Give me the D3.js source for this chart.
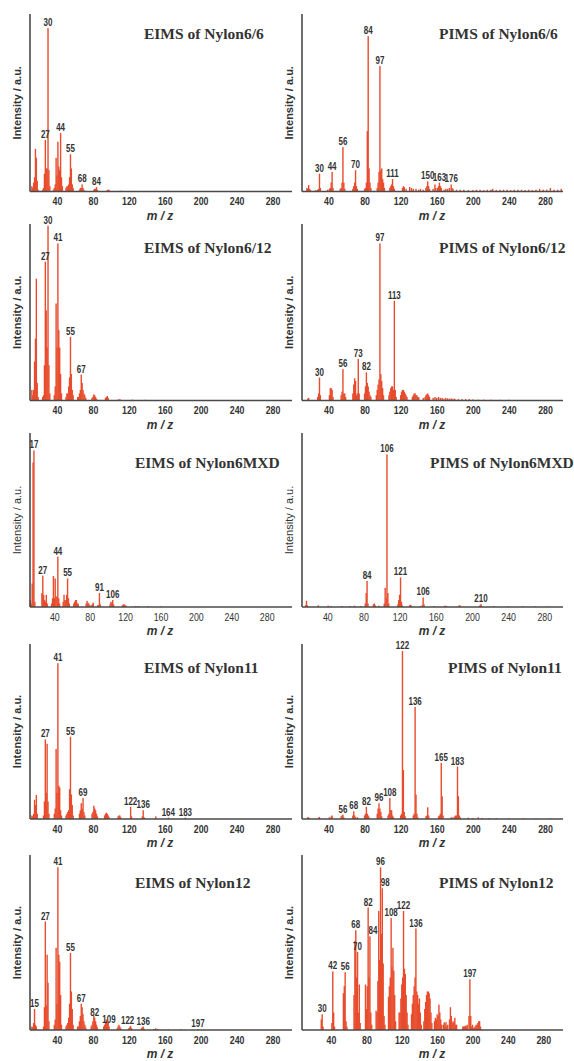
<!DOCTYPE html>
<html>
<head>
<meta charset="utf-8">
<script src="https://cdn.jsdelivr.net/npm/d3@7"></script>
<style>
  html, body { margin: 0; padding: 0; background: #fff; }
  svg { display: block; }
  .tick text, .pk { font-family: "Liberation Sans", Arial, sans-serif; }
</style>
</head>
<body>
<svg id="chart" width="574" height="1061"></svg>
<script>
// ---- data: [m/z, relative intensity %] ----
const xTicks = [40, 80, 120, 160, 200, 240, 280];

const ei66 = [[12,3],[13,2],[14,5],[15,8],[16,24],[17,19],[18,6],[19,1],
  [24,1],[25,2],[26,10],[27,29],[28,13],[29,13],[30,92],[31,12],[32,3],
  [36,1],[37,2],[38,4],[39,19],[40,9],[41,28],[42,14],[43,12],[44,33],[45,8],[46,3],
  [50,2],[51,3],[52,3],[53,4],[54,8],[55,21],[56,13],[57,4],[58,2],
  [65,1],[66,2],[67,2],[68,4],[69,2],[70,1],
  [81,1],[82,1.5],[83,1.5],[84,2.5],[85,1],
  [96,0.8],[97,1],[98,1],[110,0.4],[112,0.4],[126,0.3]];
const ei66Labels = [30, 27, 44, 55, 68, 84];

const pi66 = [[16,2],[17,1.5],[18,3.6],[19,1.5],[20,0.8],[26,0.8],[28,1],[29,1.5],[30,10],[31,2],
  [39,1],[41,1.5],[42,2],[43,5],[44,11],[45,2],
  [53,1.5],[54,2],[55,5],[56,25],[57,5],[58,1.5],
  [67,1.5],[68,3],[69,5],[70,12],[71,3],[72,1.5],
  [80,1.5],[81,2],[82,5],[83,34],[84,87.5],[85,13],[86,5],[87,2],
  [94,2],[95,5],[96,11],[97,70.7],[98,12],[99,13],[100,7],[101,5],[102,2],
  [108,2],[109,3],[110,4],[111,7],[112,3],[113,1.5],
  [122,2],[123,3],[124,2.5],[126,1.5],[130,2.5],[132,2],[134,1.5],[137,1.5],[140,1],[142,1.5],[145,1],
  [148,2],[149,3],[150,5.7],[151,3],[152,1.5],
  [156,1.5],[158,4],[159,2],[161,2],[162,3],[163,5],[164,3],[165,2],
  [168,1],[170,1.5],[172,1.5],[174,2],[176,4],[177,2],[178,1.5],
  [182,1],[186,1],[190,1],[195,0.8],[200,0.8],[204,1],[208,1],[212,0.8],[216,1],[220,1],[222,1.5],
  [226,0.8],[230,1],[234,1],[238,1],[242,0.8],[246,1],[250,1],[254,1],[258,0.8],[262,1],[266,0.8],
  [270,1],[274,1.5],[278,1],[282,1],[286,2],[290,1],[294,1],[298,1.5]];
const pi66Labels = [84, 97, 56, 30, 44, 70, 111, 150, 163, 176];

const ei612 = [[12,6],[13,3],[14,6],[15,22],[16,35],[17,69],[18,10],[19,2],
  [24,2],[25,3],[26,20],[27,78.6],[28,51],[29,30],[30,99],[31,20],[32,4],
  [37,3],[38,8],[39,55],[40,30],[41,89],[42,40],[43,30],[44,15],[45,4],
  [50,2],[51,4],[52,4],[53,8],[54,13],[55,36],[56,15],[57,6],[58,3],
  [63,2],[64,2],[65,4],[66,6],[67,14.7],[68,10],[69,6],[70,4],[71,3],[72,1.5],
  [79,1.5],[80,2],[81,3.4],[82,3],[83,2],[84,1],
  [94,1.5],[95,2],[96,2.6],[97,1.5],[108,0.6],[110,0.8],[124,0.5],[138,0.4]];
const ei612Labels = [30, 41, 27, 55, 67];

const pi612 = [[17,1],[18,1.5],[28,2],[29,4],[30,13],[31,3],
  [41,3],[42,7],[43,7],[44,6],[45,2],
  [54,3],[55,5],[56,17.8],[57,4],[58,4],[59,2],
  [67,4],[68,9],[69,12.6],[70,11],[71,3],[72,4],[73,23.6],[74,4],
  [80,4],[81,8],[82,16],[83,10],[84,8],[85,5],[86,3],[87,2],
  [93,3],[94,6],[95,9],[96,12],[97,89],[98,15],[99,11],[100,7],[101,3],
  [107,3],[108,5],[109,7],[110,8],[111,8],[112,6],[113,56.5],[114,6],[115,2],
  [120,3],[121,5],[122,6],[123,6],[124,5],[125,4],[126,3],[127,2],
  [133,2],[134,3],[135,4],[136,4],[137,3],[138,3],[139,2],[140,2],
  [145,1.5],[147,2],[148,3],[149,3.5],[150,4],[151,3],[152,2],
  [156,1.5],[158,2],[160,1.5],[162,2],[164,1.5],[166,1.5],[168,1],[170,1.5],[172,1.2],[174,1],
  [176,1.2],[178,1],[180,1],[184,0.8],[188,0.8],[192,0.8],[196,0.8],[200,0.6],[206,0.5],
  [212,0.5],[220,0.5],[230,0.4],[240,0.4]];
const pi612Labels = [97, 113, 30, 56, 73, 82];

const eiMXD = [[13,4],[14,2],[15,13.5],[16,83],[17,90],[18,3],
  [26,8],[27,18],[28,7],[29,4],[30,3],[31,7],[32,2],
  [37,2],[38,5],[39,17.8],[40,5],[41,16.4],[42,6],[43,6],[44,29],[45,5],[46,2],
  [50,3],[51,7],[52,4],[53,4],[54,7],[55,16.4],[56,5],[57,2],
  [62,2],[63,3],[64,4],[65,4],[66,2],[67,2],
  [76,2],[77,3.5],[78,2.5],[79,2],[80,1],[82,1],[83,1.5],[84,2.5],
  [89,1],[90,1],[91,8],[92,1.5],
  [103,1.5],[104,3],[105,2.5],[106,4],[107,1.5],
  [117,1],[118,1.5],[119,1.5],[120,1],[121,0.8],
  [132,0.6],[135,0.5],[146,0.5],[160,0.4]];
const eiMXDLabels = [17, 27, 44, 55, 91, 106];

const piMXD = [[16,1],[17,3.6],[18,1],[30,1],[41,0.8],[44,0.6],[56,0.6],[65,0.6],[70,0.8],[77,0.6],
  [82,2],[83,8],[84,15],[85,2],
  [91,1.5],[92,2],[93,1],[97,0.8],
  [103,2],[104,11],[105,5],[106,87.7],[107,8],[108,2],
  [118,1.5],[119,4],[120,7],[121,17],[122,3],[123,1],
  [131,1],[132,1.3],[133,0.8],
  [143,0.6],[145,1],[146,5.5],[147,1.5],
  [158,0.5],[170,0.8],[172,0.6],[186,1],[187,0.8],
  [208,0.6],[209,1],[210,1.7],[211,0.6],
  [224,0.6],[240,0.4],[256,0.4],[270,0.4],[284,0.4]];
// the label over m/z 146 reads "106" in the published figure
const piMXDLabels = [106, 84, 121, [146, "106"], 210];

const ei11 = [[12,2],[13,1.5],[14,3],[15,11],[16,8],[17,13.7],[18,3],
  [25,2],[26,10],[27,45.5],[28,15],[29,43],[30,10],[31,3],
  [37,3],[38,6],[39,40],[40,15],[41,89],[42,19],[43,18],[44,5],[45,2],
  [50,2],[51,3],[52,4],[53,5],[54,17],[55,47],[56,14],[57,8],[58,2],
  [65,3],[66,5],[67,9],[68,6],[69,12],[70,4],[71,2],
  [79,3],[80,4],[81,7.6],[82,6],[83,5],[84,3],[85,1.5],
  [93,2],[94,3],[95,3.6],[96,3],[97,2],[98,1],
  [108,1.5],[109,2],[110,2],[111,1],
  [122,7],[123,1.5],[135,1.5],[136,5],[137,1],
  [150,1.5],[164,0.8],[183,0.8]];
const ei11Labels = [41, 27, 55, 69, 122, 136, 164, 183];

const pi11 = [[17,1],[18,1],[29,0.8],[30,1.2],[41,1],[43,1.5],[44,2],
  [54,1.5],[55,2],[56,2.5],[57,1],
  [67,2],[68,4.4],[69,2],[70,1],[72,1],
  [80,2],[81,3],[82,7],[83,3],[84,2],[85,1],
  [94,3],[95,6],[96,9],[97,6],[98,4],[99,1.5],
  [106,2],[107,3],[108,12],[109,5],[110,5],[111,2],[112,1],
  [120,2],[121,3],[122,96],[123,28],[124,4],[125,1.5],
  [134,2],[135,3],[136,64],[137,14],[138,3],[139,1],
  [148,1.5],[149,2],[150,6.7],[151,2],
  [162,1.5],[163,2],[164,3],[165,32],[166,13],[167,2],
  [176,1],[178,1],[180,1.5],[181,2],[182,2],[183,30],[184,13],[185,2],[186,1],
  [195,0.8],[200,0.6],[206,1],[210,0.6],[218,0.5],[226,0.5],[240,0.4],[256,0.4],[270,0.4],[286,0.4]];
const pi11Labels = [122, 136, 165, 183, 108, 96, 82, 68, 56];

const ei12 = [[12,2],[13,1.5],[14,4],[15,12],[16,3],[17,2],
  [25,2],[26,13],[27,62],[28,14],[29,43],[30,27],[31,5],
  [37,3],[38,6],[39,47],[40,15],[41,93],[42,43],[43,39],[44,20],[45,3],
  [50,2],[51,3],[52,4],[53,7],[54,15],[55,44],[56,22],[57,12],[58,3],
  [63,2],[64,2],[65,5],[66,8],[67,15],[68,13],[69,9],[70,5],[71,3],[72,1.5],
  [78,2],[79,3],[80,5],[81,8],[82,7],[83,5],[84,3],[85,1.5],
  [92,2],[93,3],[94,4],[95,6],[96,5],[97,4],[98,2],
  [107,1],[108,2],[109,3],[110,2],[111,1],
  [120,1],[121,1.5],[122,2.3],[123,1],
  [134,1],[135,1.5],[136,2],[137,0.8],
  [148,0.6],[150,1],[152,0.5],[164,0.4],[178,0.4],[197,0.6]];
const ei12Labels = [41, 27, 55, 15, 67, 82, 109, 122, 136, 197];

const pi12 = [[29,6],[30,9],[31,2],
  [41,4],[42,33.5],[43,10],[44,2],
  [54,21],[55,25],[56,33],[57,5],[58,2],
  [66,20],[67,51],[68,57],[69,30],[70,44.6],[71,10],[72,26],[73,4],
  [79,26],[80,12],[81,25],[82,70],[83,30],[84,53.5],[85,10],[86,3],
  [91,11],[92,10],[93,28],[94,68],[95,40],[96,93],[97,55],[98,81],[99,38],[100,8],[101,3],
  [105,19],[106,25],[107,30],[108,64],[109,36],[110,47],[111,34],[112,20],[113,5],
  [117,10],[118,10],[119,18],[120,26],[121,30],[122,68],[123,35],[124,32],[125,20],[126,10],[127,3],
  [131,9],[132,15],[133,20],[134,25],[135,30],[136,58],[137,22],[138,20],[139,15],[140,18],[141,10],[142,3],
  [145,5],[146,12],[147,16],[148,20],[149,22],[150,22],[151,21],[152,18],[153,10],[154,4],
  [157,5],[158,7],[159,6],[160,9],[161,8],[162,14.5],[163,10],[164,6],[165,3],
  [167,3],[168,4.4],[169,3],[170,4.5],[171,2],[172,3],
  [174,6],[175,13],[176,8],[177,4],[178,5],[179,4.5],[180,7],[181,3],[182,3],
  [189,2],[190,2],[191,2],[192,2.5],[193,2],[194,3],
  [196,8],[197,29],[198,8],[199,2],
  [200,3],[201,1],[202,1.5],[203,2],[204,3],[205,3],[206,4],[207,5],[208,5],[209,2]];
const pi12Labels = [30, 42, 56, 68, 70, 82, 84, 96, 98, 108, 122, 136, 197];

const titles = ["EIMS of Nylon6/6", "PIMS of Nylon6/6",
  "EIMS of Nylon6/12", "PIMS of Nylon6/12",
  "EIMS of Nylon6MXD", "PIMS of Nylon6MXD",
  "EIMS of Nylon11", "PIMS of Nylon11",
  "EIMS of Nylon12", "PIMS of Nylon12"];
const spectra = [ei66, pi66, ei612, pi612, eiMXD, piMXD, ei11, pi11, ei12, pi12];
const peakLabels = [ei66Labels, pi66Labels, ei612Labels, pi612Labels, eiMXDLabels, piMXDLabels,
  ei11Labels, pi11Labels, ei12Labels, pi12Labels];
const yTitle = "Intensity / a.u.";
const xTitle = "m / z";

// ---- panel frames ----
const rowBase = [191.5, 400.5, 607, 819, 1030];
const rowTop = [14, 224, 433, 644, 855];
const colFrame = [
  { axisX: 30, t40: 57, t280: 272.5, endX: 292, yLabX: 21, xLabX: 160 },
  { axisX: 302, t40: 328.5, t280: 545, endX: 563, yLabX: 293, xLabX: 432 }
];
const tickOverride = { 4: [54.3, 266.7], 5: [327.3, 544.3], 9: [331, 543.3] };
const titleX = [144, 439, 144, 439, 135, 430, 144, 448, 135, 439];
const titleBase = [39, 253, 468, 673, 888];
// small horizontal nudges (px) for crowded peak labels: panel -> {m/z: dx}
const labelNudge = { 8: { 109: -10, 122: -3 }, 9: { 84: 3, 98: 3 } };

const barColor = "#e84c2c";
const inkColor = "#333";
const axisColor = "#4a4a4a";
const squeeze = 0.8; // horizontal condensing of the small numeric labels

const svg = d3.select("#chart");

spectra.forEach((peaks, i) => {
  const row = Math.floor(i / 2), col = i % 2;
  const f = colFrame[col];
  const base = rowBase[row], top = rowTop[row];
  const [t40, t280] = tickOverride[i] || [f.t40, f.t280];
  const thin = row === 2;

  const x = d3.scaleLinear().domain([40, 280]).range([t40, t280]);
  const y = d3.scaleLinear().domain([0, 100]).range([base, top]);

  const g = svg.append("g");

  // peaks
  g.append("g").selectAll("rect").data(peaks).join("rect")
    .attr("x", d => x(d[0]) - 0.7)
    .attr("width", 1.4)
    .attr("y", d => y(d[1]))
    .attr("height", d => base - y(d[1]))
    .attr("fill", barColor);

  // axes
  g.append("line").attr("x1", f.axisX).attr("x2", f.endX)
    .attr("y1", base).attr("y2", base)
    .attr("stroke", axisColor).attr("stroke-width", 1.6);
  g.append("line").attr("x1", f.axisX).attr("x2", f.axisX)
    .attr("y1", top).attr("y2", base)
    .attr("stroke", axisColor).attr("stroke-width", 1.6);

  const ax = g.append("g").attr("transform", `translate(0,${base})`)
    .call(d3.axisBottom(x).tickValues(xTicks).tickSize(0).tickPadding(6));
  ax.select(".domain").remove();
  ax.selectAll("text").attr("fill", inkColor).attr("font-size", 11)
    .attr("font-weight", thin ? "normal" : "bold")
    .attr("transform", `scale(${squeeze},1)`);

  // peak labels
  const lookup = new Map(peaks);
  const nudge = labelNudge[i] || {};
  const labs = peakLabels[i].map(l => Array.isArray(l) ? { mz: l[0], text: l[1] } : { mz: l, text: String(l) });
  g.append("g").selectAll("text").data(labs).join("text")
    .attr("class", "pk")
    .attr("transform", d => `translate(${x(d.mz) + (nudge[d.mz] || 0)},${y(lookup.get(d.mz) || 0) - 2}) scale(${squeeze},1)`)
    .attr("text-anchor", "middle")
    .attr("font-size", 10)
    .attr("font-weight", "bold")
    .attr("fill", inkColor)
    .text(d => d.text);

  // titles
  g.append("text").attr("x", titleX[i]).attr("y", titleBase[row])
    .attr("font-family", "'Liberation Serif', 'Times New Roman', serif")
    .attr("font-weight", "bold").attr("font-size", 15.5)
    .attr("fill", inkColor).text(titles[i]);

  const midY = (base + top) / 2;
  g.append("text")
    .attr("transform", `translate(${f.yLabX},${midY}) rotate(-90)`)
    .attr("text-anchor", "middle")
    .attr("font-family", "'Liberation Sans', Arial, sans-serif")
    .attr("font-weight", thin ? "normal" : "bold").attr("font-size", 11)
    .attr("fill", inkColor).text(yTitle);

  g.append("text").attr("x", f.xLabX).attr("y", base + 28)
    .attr("text-anchor", "middle")
    .attr("font-family", "'Liberation Sans', Arial, sans-serif")
    .attr("font-style", "italic").attr("font-weight", "bold").attr("font-size", 12)
    .attr("fill", inkColor).text(xTitle);
});
</script>
</body>
</html>
